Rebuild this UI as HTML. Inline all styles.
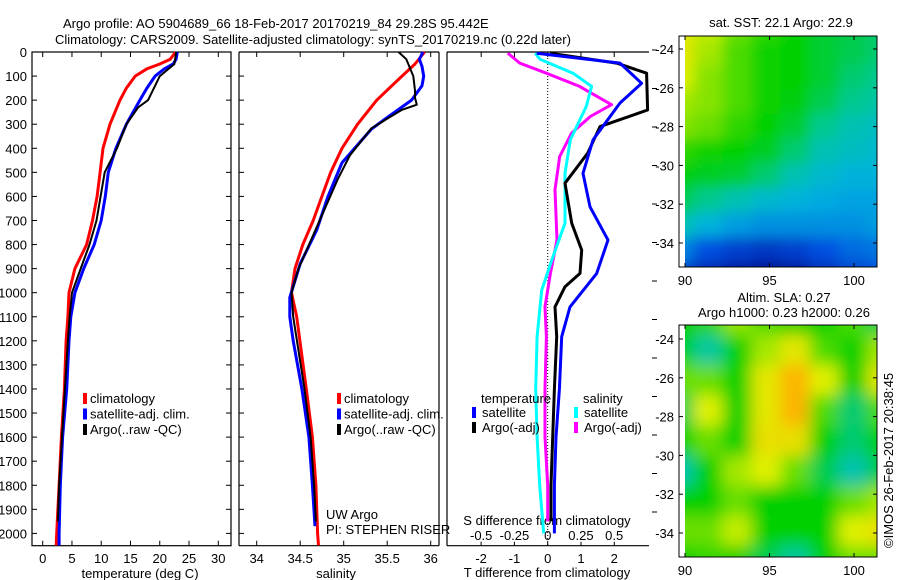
<!DOCTYPE html>
<html><head><meta charset="utf-8">
<style>
html,body{margin:0;padding:0;background:#fff;}
svg{display:block;font-family:"Liberation Sans",sans-serif;}
text{font-size:13px;fill:#000;}
</style></head>
<body>
<svg id="fig" width="900" height="580" viewBox="0 0 900 580" xmlns="http://www.w3.org/2000/svg">
<defs>
<filter id="blur1" filterUnits="userSpaceOnUse" x="600" y="0" width="300" height="300"><feGaussianBlur stdDeviation="7"/></filter>
<filter id="blur2" filterUnits="userSpaceOnUse" x="600" y="290" width="300" height="290"><feGaussianBlur stdDeviation="8"/></filter>
<clipPath id="clipm1"><rect x="685" y="36" width="192" height="231"/></clipPath>
<clipPath id="clipm2"><rect x="685" y="325" width="192" height="232"/></clipPath>
</defs>
<text x="63" y="28">Argo profile: AO 5904689_66 18-Feb-2017 20170219_84 29.28S 95.442E</text>
<text x="55" y="44">Climatology: CARS2009. Satellite-adjusted climatology: synTS_20170219.nc (0.22d later)</text>
<g id="g"></g>
</svg>
<script>
// ---------- data ----------
const depthT = [0,30,50,70,100,150,200,300,400,500,600,700,800,900,1000,1100,1200,1400,1600,1800,2000,2050];
const tClim  = [22.7,21.8,20.0,17.8,15.8,14.3,13.2,11.5,10.3,9.8,9.3,8.5,7.5,5.5,4.5,4.3,4.0,3.7,3.2,2.8,2.4,2.3];
const tSat   = [23.0,22.8,22.3,20.8,19.2,17.8,16.6,14.3,12.5,11.2,10.7,10.0,8.8,7.0,5.5,4.8,4.5,4.1,3.4,3.0,2.8,2.8];
const depthArgo = [0,50,100,200,230,300,400,500,600,700,800,900,1000,1100,1200,1400,1600,1800,1950];
const tArgo  = [22.8,22.5,20.0,18.0,16.3,14.3,12.7,10.6,9.9,9.2,8.0,6.5,5.0,4.6,4.3,3.8,3.3,2.8,2.6];

const depthS = [0,50,100,200,300,400,500,600,700,800,900,1000,1100,1400,1600,1800,2000,2050];
const sClim  = [35.93,35.82,35.67,35.38,35.16,34.98,34.85,34.75,34.65,34.53,34.44,34.40,34.46,34.57,34.64,34.68,34.70,34.71];
const depthSSat = [0,30,60,100,140,200,280,320,460,600,740,880,1020,1100,1200,1400,1600,1800,1970];
const sSat   = [35.91,35.87,35.9,35.92,35.9,35.78,35.47,35.32,34.98,34.82,34.69,34.50,34.38,34.38,34.42,34.52,34.60,34.64,34.67];
const depthSArgo = [0,30,100,160,190,219,240,275,317,430,530,670,810,900,1000,1100,1400,1600,1800,1950];
const sArgo  = [35.63,35.72,35.80,35.82,35.82,35.84,35.67,35.51,35.32,35.07,34.93,34.76,34.59,34.48,34.40,34.42,34.55,34.62,34.66,34.68];

const dDepthTs = [5,46,130,212,365,504,643,781,920,1059,1183,1400,1600,1800,2000];
const dTSat    = [-0.33,2.17,2.82,2.17,1.36,1.06,1.27,1.81,1.47,0.67,0.42,0.35,0.25,0.2,0.2];
const dDepthTa = [5,10,46,88,241,310,420,545,711,823,920,975,1059,1183,1400,1600,1800,1950];
const dTArgo   = [0.07,0.3,2.07,2.97,3.0,1.57,1.2,0.52,0.72,1.02,0.97,0.52,0.22,0.27,0.2,0.15,0.1,0.1];
const dDepthSs = [5,30,88,143,226,365,504,711,850,989,1183,1400,1600,1800,2000];
const dSSat    = [-0.095,-0.058,0.19,0.33,0.29,0.17,0.13,0.13,0.04,-0.045,-0.08,-0.09,-0.08,-0.06,-0.03];
const dDepthSa = [5,46,88,143,219,268,337,434,572,781,920,1059,1183,1400,1600,1800,1950];
const dSArgo   = [-0.3,-0.21,-0.01,0.24,0.48,0.32,0.18,0.09,0.055,0.07,0.02,-0.02,-0.01,-0.02,-0.02,0,0];

const depthTicks = [0,100,200,300,400,500,600,700,800,900,1000,1100,1200,1300,1400,1500,1600,1700,1800,1900,2000];
const tempTicks = [0,5,10,15,20,25,30];
const salTicks = [34,34.5,35,35.5,36];
const tDiffTicks = [-2,-1,0,1,2];
const sDiffTicks = [-0.5,-0.25,0,0.25,0.5];
const sDiffTickLabels = ["-0.5","-0.25","0","0.25","0.5"];
const lonTicks = [90,95,100];
const latTicks = [-24,-26,-28,-30,-32,-34];

// SST map grid (normalised colour index), rows -23..-35, cols 90..101
const sstGrid = [
 [0.72,0.68,0.62,0.58,0.55,0.52,0.50,0.48],
 [0.72,0.66,0.60,0.56,0.55,0.52,0.50,0.48],
 [0.70,0.64,0.60,0.56,0.55,0.52,0.48,0.46],
 [0.66,0.64,0.60,0.56,0.54,0.50,0.46,0.44],
 [0.64,0.62,0.58,0.55,0.52,0.46,0.42,0.40],
 [0.58,0.56,0.55,0.53,0.48,0.42,0.40,0.38],
 [0.54,0.53,0.52,0.48,0.42,0.38,0.36,0.36],
 [0.50,0.46,0.42,0.38,0.36,0.34,0.33,0.33],
 [0.42,0.36,0.32,0.30,0.30,0.30,0.30,0.32],
 [0.28,0.20,0.16,0.14,0.16,0.20,0.24,0.26],
 [0.16,0.10,0.06,0.04,0.06,0.12,0.16,0.20]];
// SLA map grid
const slaGrid = [
 [0.55,0.58,0.65,0.60,0.55,0.55,0.60,0.50],
 [0.55,0.45,0.55,0.66,0.72,0.60,0.55,0.66],
 [0.62,0.62,0.55,0.72,0.84,0.70,0.55,0.72],
 [0.50,0.70,0.55,0.72,0.84,0.60,0.48,0.60],
 [0.55,0.62,0.55,0.74,0.74,0.55,0.48,0.55],
 [0.43,0.55,0.66,0.70,0.62,0.50,0.43,0.50],
 [0.55,0.55,0.62,0.55,0.55,0.55,0.62,0.66],
 [0.62,0.62,0.68,0.55,0.55,0.55,0.70,0.74],
 [0.55,0.58,0.55,0.50,0.45,0.55,0.62,0.62]];

// ---------- helpers ----------
const NS = "http://www.w3.org/2000/svg";
const G = document.getElementById('g');
function mk(tag, attrs, parent){
  const e = document.createElementNS(NS, tag);
  for (const k in attrs) e.setAttribute(k, attrs[k]);
  (parent||G).appendChild(e);
  return e;
}
const yD = d => 52 + 0.2407*d;
const xT = t => 42.7 + 5.853*t;
const xS = s => 256.7 + 87*(s-34);
const xDT = t => 547.7 + 33.3*t;
const xDS = s => 547.7 + 133*s;
function line(xs, ys, fx, color, w, name){
  const pts = xs.map((v,i)=> fx(v).toFixed(1)+","+yD(ys[i]).toFixed(1)).join(" ");
  const p = mk('polyline',{points:pts,fill:'none',stroke:color,'stroke-width':w,'stroke-linejoin':'round'});
  
  
}
function txt(x,y,s,anchor,name){
  const t = mk('text',{x:x,y:y,'text-anchor':anchor||'start'});
  t.textContent = s;
  
  
  return t;
}
const BOT = 545.7;

// ---------- panel 1 ----------
let f = mk('rect',{x:32,y:52,width:199,height:BOT-52,fill:'none',stroke:'#000','stroke-width':1.2});


depthTicks.forEach(d=>{
  mk('line',{x1:32,x2:37,y1:yD(d),y2:yD(d),stroke:'#000'});
  mk('line',{x1:226,x2:231,y1:yD(d),y2:yD(d),stroke:'#000'});
  txt(27,yD(d)+5,String(d),'end','depth-tick-label');
});
tempTicks.forEach(t=>{
  mk('line',{x1:xT(t),x2:xT(t),y1:BOT,y2:BOT-5,stroke:'#000'});
  mk('line',{x1:xT(t),x2:xT(t),y1:52,y2:57,stroke:'#000'});
  txt(xT(t),563,String(t),'middle','temperature-tick-label');
});
txt(140,578,'temperature (deg C)','middle','temperature-axis-title');
line(tClim,depthT,xT,'#ff0000',3,'temp-climatology-line');
line(tSat,depthT,xT,'#0000ff',3,'temp-satellite-line');
line(tArgo,depthArgo,xT,'#000000',2,'temp-argo-line');

function legend(x,y,entries,prefix){
  entries.forEach((e,i)=>{
    const r = mk('rect',{x:x,y:y+i*15.5-10,width:4,height:11,fill:e[1]});
    
    
    txt(x+7,y+i*15.5,e[0],'start',prefix+'-entry');
  });
}
legend(83,403,[['climatology','#ff0000'],['satellite-adj. clim.','#0000ff'],['Argo(..raw -QC)','#000']],'temp-legend');

// ---------- panel 2 ----------
mk('line',{x1:239,x2:239,y1:52,y2:BOT,stroke:'#000','stroke-width':1.2});
mk('line',{x1:439,x2:439,y1:52,y2:BOT,stroke:'#000','stroke-width':1.2});
mk('line',{x1:239,x2:439,y1:BOT,y2:BOT,stroke:'#000','stroke-width':1.2});
mk('line',{x1:239,x2:439,y1:52,y2:52,stroke:'#000','stroke-width':1.2});
depthTicks.forEach(d=>{ mk('line',{x1:239,x2:244,y1:yD(d),y2:yD(d),stroke:'#000'}); });
salTicks.forEach(s=>{
  mk('line',{x1:xS(s),x2:xS(s),y1:BOT,y2:BOT-5,stroke:'#000'});
  mk('line',{x1:xS(s),x2:xS(s),y1:52,y2:57,stroke:'#000'});
  txt(xS(s),563,String(s),'middle','salinity-tick-label');
});
txt(336,578,'salinity','middle','salinity-axis-title');
line(sClim,depthS,xS,'#ff0000',3,'sal-climatology-line');
line(sSat,depthSSat,xS,'#0000ff',3,'sal-satellite-line');
line(sArgo,depthSArgo,xS,'#000000',2,'sal-argo-line');
legend(337,403,[['climatology','#ff0000'],['satellite-adj. clim.','#0000ff'],['Argo(..raw -QC)','#000']],'sal-legend');
txt(326,519,'UW Argo','start','pi-institution');
txt(326,534,'PI: STEPHEN RISER','start','pi-name');

// ---------- panel 3 ----------
mk('line',{x1:447,x2:447,y1:52,y2:BOT,stroke:'#000','stroke-width':1.2});
mk('line',{x1:447,x2:649,y1:BOT,y2:BOT,stroke:'#000','stroke-width':1.2});
mk('line',{x1:447,x2:649,y1:52,y2:52,stroke:'#000','stroke-width':1.2});
mk('line',{x1:547.7,x2:547.7,y1:52,y2:BOT,stroke:'#000','stroke-dasharray':'1,2'});
for(let y=50;y<540;y+=38.5){ mk('line',{x1:652,x2:657,y1:y,y2:y,stroke:'#000'}); }
tDiffTicks.forEach(t=>{
  mk('line',{x1:xDT(t),x2:xDT(t),y1:BOT,y2:BOT-4,stroke:'#000'});
  txt(xDT(t),563,String(t),'middle','tdiff-tick-label');
});
sDiffTicks.forEach((s,i)=>{
  mk('line',{x1:xDS(s),x2:xDS(s),y1:52,y2:57,stroke:'#000'});
  txt(xDS(s),540,sDiffTickLabels[i],'middle','sdiff-tick-label');
});
txt(547,525,'S difference from climatology','middle','sdiff-axis-title');
txt(547,577,'T difference from climatology','middle','tdiff-axis-title');
line(dSArgo,dDepthSa,xDS,'#ff00ff',3,'sdiff-argo-line');
line(dSSat,dDepthSs,xDS,'#00ffff',3,'sdiff-satellite-line');
line(dTArgo,dDepthTa,xDT,'#000000',3,'tdiff-argo-line');
line(dTSat,dDepthTs,xDT,'#0000ff',3,'tdiff-satellite-line');
txt(481,403,'temperature','start','diff-legend-temp-header');
txt(583,403,'salinity','start','diff-legend-sal-header');
[['satellite','#0000ff',472],['Argo(-adj)','#000',472],['satellite','#00ffff',574],['Argo(-adj)','#ff00ff',574]].forEach((e,i)=>{
  const y = 417 + (i%2)*15;
  const r = mk('rect',{x:e[2],y:y-10,width:4,height:11,fill:e[1]});
  
  
  txt(e[2]+10,y,e[0],'start','diff-legend-entry');
});

// ---------- maps ----------
const stops = [[0,[0,0,128]],[0.2,[0,80,224]],[0.35,[0,176,224]],[0.45,[0,200,160]],[0.55,[0,208,0]],[0.7,[224,240,0]],[0.85,[255,176,0]],[1,[255,80,0]]];
function cmap(v){
  for(let i=1;i<stops.length;i++){ if(v<=stops[i][0]){ const a=stops[i-1],b=stops[i]; const t=(v-a[0])/(b[0]-a[0]);
    const c=a[1].map((q,k)=>Math.round(q+(b[1][k]-q)*t)); return `rgb(${c[0]},${c[1]},${c[2]})`; } }
  return 'rgb(255,80,0)';
}
function drawMap(grid, top, bot, y24, y34, clip, filt, name, title){
  const x90=685, x100=854, L=685, R=877;
  const lonX = lo => x90 + (x100-x90)*(lo-90)/10;
  const latY = la => y24 + (y34-y24)*(la+24)/(-10);
  const grp = mk('g',{'clip-path':`url(#${clip})`});
  
  
  const inner = mk('g',{filter:`url(#${filt})`},grp);
  const rows=grid.length, cols=grid[0].length;
  const M=20, cw=(R-L+2*M)/cols, ch=(bot-top+2*M)/rows;
  grid.forEach((row,r)=>row.forEach((v,c)=>{
    const cell = mk('rect',{x:L-M+c*cw-0.5,y:top-M+r*ch-0.5,width:cw+1,height:ch+1,fill:cmap(v)},inner);
    
    
  }));
  const fr = mk('rect',{x:679,y:top,width:R-679,height:bot-top,fill:'none',stroke:'#000'});
  
  
  mk('rect',{x:679.5,y:top+0.5,width:5,height:bot-top-1,fill:'#fff'});
  lonTicks.forEach(lo=>{
    mk('line',{x1:lonX(lo),x2:lonX(lo),y1:bot,y2:bot-4,stroke:'#000'});
    mk('line',{x1:lonX(lo),x2:lonX(lo),y1:top,y2:top+4,stroke:'#000'});
    txt(lonX(lo),bot+18,String(lo),'middle',name+'-lon-label');
  });
  latTicks.forEach(la=>{
    mk('line',{x1:679,x2:683,y1:latY(la),y2:latY(la),stroke:'#000'});
    mk('line',{x1:873,x2:877,y1:latY(la),y2:latY(la),stroke:'#000'});
    txt(674,latY(la)+5,String(la),'end',name+'-lat-label');
  });
  title.forEach((t,i)=>txt(t[1],t[2],t[0],'middle',name+'-title'));
}
drawMap(sstGrid,36,267,49,243,'clipm1','blur1','sst-map',[['sat. SST: 22.1  Argo: 22.9',781,27]]);
drawMap(slaGrid,325,557,339,533,'clipm2','blur2','sla-map',[['Altim. SLA: 0.27',784,302],['Argo h1000: 0.23 h2000: 0.26',784,317]]);

const cr = mk('text',{x:0,y:0,transform:'translate(893,548) rotate(-90)','font-size':'13'});
cr.textContent = '©IMOS 26-Feb-2017 20:38:45';


</script>
</body></html>
